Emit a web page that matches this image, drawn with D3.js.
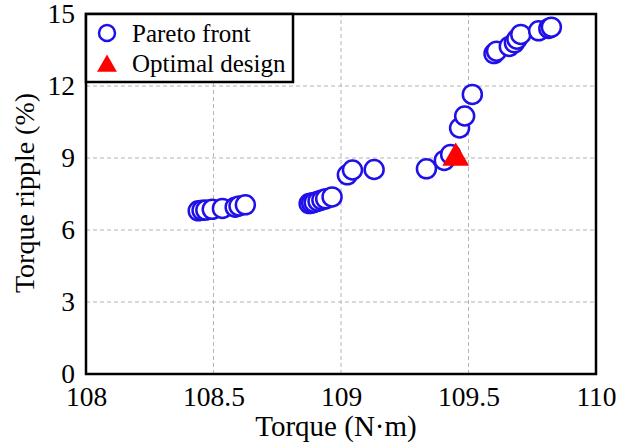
<!DOCTYPE html>
<html>
<head>
<meta charset="utf-8">
<script src="https://cdn.jsdelivr.net/npm/d3@7"></script>
<style>
  html, body { margin: 0; padding: 0; background: #fff; }
  svg { display: block; font-family: "Liberation Serif", "Times New Roman", serif; }
</style>
</head>
<body>
<svg id="chart" width="619" height="442"></svg>
<script>
// Pareto front samples: torque (N·m) and torque ripple (%)
const paretoTorque = [
  108.44, 108.455, 108.47, 108.495, 108.535, 108.585, 108.60, 108.625,
  108.875, 108.885, 108.895, 108.91, 108.925, 108.94, 108.965,
  109.025, 109.045, 109.13,
  109.335, 109.405, 109.43,
  109.465, 109.485, 109.515,
  109.6, 109.61, 109.66, 109.68, 109.69, 109.705, 109.775, 109.815, 109.825
];
const paretoRipple = [
  6.8, 6.82, 6.83, 6.86, 6.9, 6.95, 7.0, 7.05,
  7.1, 7.12, 7.15, 7.2, 7.25, 7.3, 7.38,
  8.3, 8.5, 8.52,
  8.55, 8.9, 9.15,
  10.25, 10.75, 11.65,
  13.35, 13.45, 13.65, 13.8, 13.95, 14.15, 14.3, 14.4, 14.45
];
// Selected design
const optimalTorque = [109.45];
const optimalRipple = [9.0];

const xTicks = [108, 108.5, 109, 109.5, 110];
const xTickLabels = ["108", "108.5", "109", "109.5", "110"];
const yTicks = [0, 3, 6, 9, 12, 15];

const legendLabels = ["Pareto front", "Optimal design"];

const svg = d3.select("#chart");
const margin = { left: 86, right: 23, top: 14, bottom: 68 };
const W = 619, H = 442;
const serif = "Liberation Serif, Times New Roman, serif";

const x = d3.scaleLinear().domain([108, 110]).range([margin.left, W - margin.right]);
const y = d3.scaleLinear().domain([0, 15]).range([H - margin.bottom, margin.top]);

// dashed grid
svg.append("g").selectAll("line").data(xTicks.slice(1, -1)).join("line")
  .attr("x1", d => x(d)).attr("x2", d => x(d))
  .attr("y1", y(0)).attr("y2", y(15))
  .attr("stroke", "#b4b4b4").attr("stroke-width", 1).attr("stroke-dasharray", "4,3");
svg.append("g").selectAll("line").data(yTicks.slice(1, -1)).join("line")
  .attr("x1", x(108)).attr("x2", x(110))
  .attr("y1", d => y(d)).attr("y2", d => y(d))
  .attr("stroke", "#b4b4b4").attr("stroke-width", 1).attr("stroke-dasharray", "4,3");

// axes (labels only, frame drawn separately)
const xAxis = svg.append("g")
  .attr("transform", `translate(0,${y(0)})`)
  .call(d3.axisBottom(x).tickValues(xTicks).tickFormat((d, i) => xTickLabels[i]).tickSize(0).tickPadding(12));
xAxis.select(".domain").remove();
xAxis.selectAll("text").attr("font-size", 27.5).attr("fill", "#000").attr("font-family", serif);

const yAxis = svg.append("g")
  .attr("transform", `translate(${x(108)},0)`)
  .call(d3.axisLeft(y).tickValues(yTicks).tickFormat(d3.format("d")).tickSize(0).tickPadding(11));
yAxis.select(".domain").remove();
yAxis.selectAll("text").attr("font-size", 27.5).attr("fill", "#000").attr("font-family", serif)
  .attr("dy", "0.3em");

// data points
const blue = "#2010e8";
const pts = paretoTorque.map((t, i) => ({ t, r: paretoRipple[i] }));
svg.append("g").selectAll("circle").data(pts).join("circle")
  .attr("cx", d => x(d.t)).attr("cy", d => y(d.r)).attr("r", 9.5)
  .attr("fill", "#fff").attr("stroke", blue).attr("stroke-width", 2.5);

const tri = d3.symbol().type(d3.symbolTriangle).size(310);
svg.append("g").selectAll("path").data(optimalTorque.map((t, i) => ({ t, r: optimalRipple[i] }))).join("path")
  .attr("d", tri)
  .attr("transform", d => `translate(${x(d.t)},${y(d.r)})`)
  .attr("fill", "#ff0000");

// frame
svg.append("rect")
  .attr("x", x(108)).attr("y", y(15))
  .attr("width", x(110) - x(108)).attr("height", y(0) - y(15))
  .attr("fill", "none").attr("stroke", "#000").attr("stroke-width", 2.5);

// legend
const lg = svg.append("g");
lg.append("rect")
  .attr("x", x(108)).attr("y", y(15))
  .attr("width", 207).attr("height", 68)
  .attr("fill", "#fff").attr("stroke", "#000").attr("stroke-width", 2.5);
lg.append("circle").attr("cx", x(108) + 21).attr("cy", y(15) + 19).attr("r", 8)
  .attr("fill", "#fff").attr("stroke", blue).attr("stroke-width", 2.5);
lg.append("path").attr("d", d3.symbol().type(d3.symbolTriangle).size(170))
  .attr("transform", `translate(${x(108) + 21},${y(15) + 52})`).attr("fill", "#ff0000");
lg.selectAll("text").data(legendLabels).join("text")
  .attr("x", x(108) + 46).attr("y", (d, i) => y(15) + 28 + i * 30)
  .attr("font-size", 25).attr("fill", "#000").text(d => d);

// axis titles
svg.append("text")
  .attr("x", (x(108) + x(110)) / 2 - 5).attr("y", 436)
  .attr("text-anchor", "middle").attr("font-size", 29).text("Torque (N·m)");
svg.append("text")
  .attr("transform", `translate(34,193) rotate(-90)`)
  .attr("text-anchor", "middle").attr("font-size", 28).text("Torque ripple (%)");
</script>
</body>
</html>
